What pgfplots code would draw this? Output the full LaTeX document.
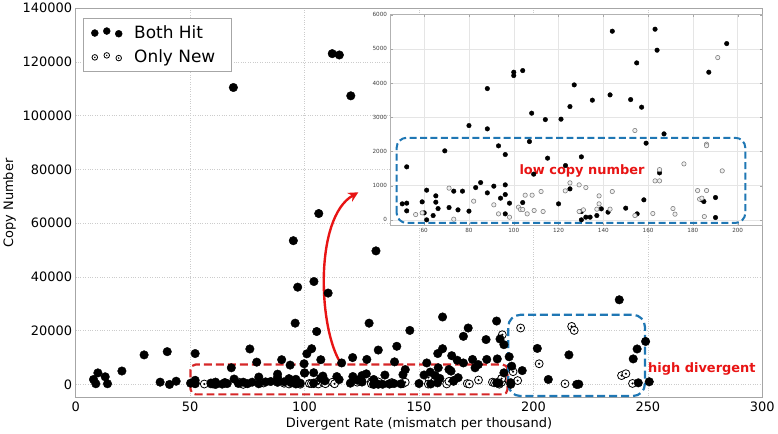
\documentclass[border=0pt]{standalone}
\usepackage{fontspec}
\setmainfont{DejaVu Sans}
\usepackage{pgfplots}
\usepackage{pgfplotstable}
\pgfplotsset{compat=1.18}
\usetikzlibrary{arrows.meta}
\definecolor{boxblue}{RGB}{31,119,180}
\definecolor{boxred}{RGB}{214,39,40}
\definecolor{txtred}{RGB}{232,20,20}

% circle with a dot in the middle
\pgfdeclareplotmark{odot}{%
  \pgfpathcircle{\pgfpointorigin}{\pgfplotmarksize}%
  \pgfusepathqfillstroke
  \begin{pgfscope}%
    \pgfsetfillcolor{black}%
    \pgfpathcircle{\pgfpointorigin}{0.3\pgfplotmarksize}%
    \pgfusepathqfill
  \end{pgfscope}%
}

% legend with three staggered markers
\pgfplotsset{
  threemarks/.style={
    legend image code/.code={%
      \draw[##1, mark size=#1] plot coordinates {(0pt,-0.5pt)(12pt,1.5pt)(24pt,-1.2pt)};%
    }
  },
  hitstyle/.style={only marks, mark=*, black},
  newstyle/.style={only marks, mark=odot, mark options={draw=black, fill=white, line width=0.8pt}},
}

\pgfplotstableread{
x y
7.8 1850
9.7 4300
8.8 260
12.9 2850
13.9 260
20.2 5000
29.9 11000
36.9 850
40.0 12200
41.0 0
43.9 1200
52.2 11500
68.0 6200
68.9 110500
76.1 13200
79.1 8300
90.0 9200
93.7 7200
95.1 53500
95.9 22800
97.0 36200
99.8 7700
101.0 11400
103.1 13300
104.1 38300
105.3 19700
106.2 63600
107.1 9200
110.3 34000
112.1 123100
115.2 122600
116.2 8000
120.2 107400
121.0 10000
127.2 9300
128.2 22800
131.2 49700
132.2 12800
139.3 8400
140.3 14200
146.0 20100
153.4 8000
158.2 11500
158.4 6200
160.3 25100
160.3 13300
164.3 10700
166.7 9000
169.4 17900
169.4 8000
171.5 21000
173.4 9300
174.5 6200
175.9 7400
179.3 16700
179.6 9300
183.9 23600
184.2 9500
185.4 16900
187.1 14800
189.4 10300
190.5 6800
201.7 13400
206.5 1850
215.5 11000
218.9 0
219.8 100
237.5 31500
243.6 9500
245.3 13200
245.8 600
249.0 16000
250.6 1000
50.2 468
52.2 488
52.2 263
52.2 1550
59.1 526
60.0 205
61.1 868
61.1 0
64.0 126
65.2 702
65.2 517
66.2 330
69.2 2018
71.1 360
73.2 839
75.1 292
77.1 839
80.0 2757
80.0 254
83.0 944
85.2 1091
88.2 3839
88.2 2661
88.2 789
91.1 985
93.2 2164
94.1 634
96.2 1910
96.2 1023
96.2 740
96.2 175
98.1 488
100.0 4318
100.0 4220
104.0 4366
104.0 506
107.0 2290
108.0 3120
108.9 1336
114.1 2933
115.1 1804
120.0 468
121.1 2944
123.1 1588
125.1 3313
125.1 906
127.0 3947
130.2 1842
130.2 244
130.2 0
132.2 78
134.1 78
135.1 3500
137.1 126
139.1 322
142.1 225
143.0 3655
144.0 5517
150.0 342
152.2 3518
154.9 4590
155.1 175
157.1 3295
158.1 585
159.1 2243
163.1 5576
164.0 4962
165.1 1374
167.1 2515
184.0 585
184.9 536
187.1 4318
190.1 653
190.1 68
195.1 5155
}\bothhit

\pgfplotstableread{
x y
186.4 18500
194.4 21000
202.5 7700
213.8 260
216.7 21600
217.8 20100
238.5 3300
240.4 4000
243.3 370
56.2 155
59.1 205
71.1 927
73.2 20
82.1 547
91.1 439
93.2 175
98.1 78
102.1 371
103.0 302
104.0 302
105.1 721
106.0 175
108.2 721
109.1 273
112.2 829
113.1 244
123.0 848
125.1 1082
129.2 1023
129.2 244
131.1 292
132.2 945
137.1 312
138.1 702
138.1 468
143.0 312
144.0 829
154.1 2612
154.1 126
162.1 185
163.1 1140
165.1 1140
165.1 1470
171.1 330
172.0 166
176.0 1637
182.1 857
183.0 605
184.0 634
185.1 97
186.1 857
186.1 2213
186.1 2170
191.1 4746
193.1 1433
}\onlynew

\begin{document}
\begin{tikzpicture}

\begin{axis}[
    name=main,
    scale only axis,
    width=689pt, height=391pt,
    xmin=0, xmax=300,
    ymin=-5000, ymax=140000,
    xtick={0,50,...,300},
    ytick={0,20000,...,140000},
    scaled y ticks=false,
    yticklabel style={/pgf/number format/fixed, /pgf/number format/1000 sep={}},
    /pgf/number format/assume math mode=true,
    tick label style={font=\fontsize{13}{15}\selectfont},
    label style={font=\fontsize{13}{15}\selectfont},
    xlabel={Divergent Rate (mismatch per thousand)},
    ylabel={Copy Number},
    grid=major,
    grid style={dotted, gray!40, line width=0.6pt},
    axis line style={gray!70, line width=0.8pt},
    major tick length=0pt,
    legend style={at={(0,1)}, anchor=north west, xshift=7.5pt, yshift=-10pt,
        draw=gray!70, font=\fontsize{17}{20}\selectfont,
        inner xsep=8pt, inner ysep=5pt, row sep=6pt,
        /tikz/every odd column/.append style={column sep=10pt}},
    legend cell align=left,
]
% open circles first, filled ones drawn over them
\addplot[newstyle, mark size=4pt, forget plot] table[x=x, y=y] {\onlynew};
\addplot[hitstyle, mark size=4.3pt, forget plot] table[x=x, y=y] {\bothhit};
\addlegendimage{hitstyle, threemarks=3.5pt}
\addlegendentry{Both Hit\hspace*{6pt}}
\addlegendimage{newstyle, threemarks=2.8pt}
\addlegendentry{Only New\hspace*{6pt}}

\draw[boxred, line width=2.2pt, dash pattern=on 8pt off 4pt, rounded corners=5pt]
    (axis cs:50.2,-3700) rectangle (axis cs:188.7,7400);
\draw[boxblue, line width=2.2pt, dash pattern=on 8pt off 4pt, rounded corners=12pt]
    (axis cs:189,-4300) rectangle (axis cs:248.7,25900);
\draw[txtred, line width=2.4pt, -{Stealth[length=10pt, width=10pt]}]
    (axis cs:116.2,7400) .. controls (axis cs:106,20000) and (axis cs:104,62000) .. (axis cs:123.5,71500);
\node[txtred, font=\bfseries\fontsize{13}{15}\selectfont] at (axis cs:273.6,5900) {high divergent};
\end{axis}

\begin{axis}[
    at={(main.north east)}, anchor=north east, yshift=-6.5pt,
    scale only axis,
    width=373pt, height=211pt,
    xmin=45, xmax=211,
    ymin=-150, ymax=6000,
    xtick={60,80,...,200},
    ytick={0,1000,...,6000},
    scaled y ticks=false,
    yticklabel style={/pgf/number format/fixed, /pgf/number format/1000 sep={}},
    /pgf/number format/assume math mode=true,
    tick label style={font=\fontsize{5.7}{7}\selectfont, text=black!75},
    axis background/.style={fill=white},
    grid=major,
    grid style={gray!20, line width=0.4pt},
    axis line style={gray!60},
    major tick length=2pt,
    tick style={gray!70},
]
\addplot[only marks, mark=*, mark size=2.3pt, black,
    restrict x to domain=40:198, restrict y to domain=-1000:7000]
    table[x=x, y=y] {\bothhit};
\addplot[only marks, mark=*, mark size=2.2pt, mark options={draw=gray, fill=gray!12, line width=0.6pt},
    restrict x to domain=40:198, restrict y to domain=-1000:7000]
    table[x=x, y=y] {\onlynew};

\draw[boxblue, line width=2pt, dash pattern=on 7pt off 3.5pt, rounded corners=10pt]
    (axis cs:47.7,-90) rectangle (axis cs:203.4,2400);
\node[txtred, font=\bfseries\fontsize{13}{15}\selectfont] at (axis cs:130.5,1430) {low copy number};
\end{axis}

\end{tikzpicture}
\end{document}
